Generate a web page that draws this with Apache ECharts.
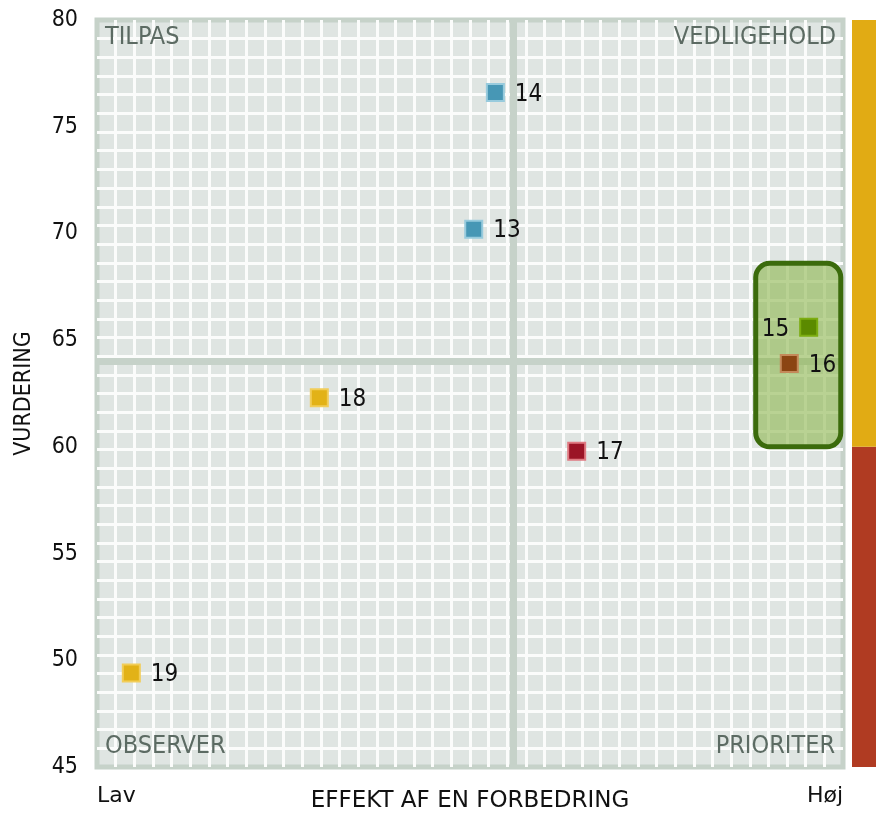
<!DOCTYPE html>
<html>
<head>
    <meta charset="utf-8">
    <title>Vurdering</title>
    <script src="https://cdn.jsdelivr.net/npm/echarts@6/dist/echarts.min.js"></script>
    <style>
        html, body { margin: 0; padding: 0; background: #fff; }
        #main { width: 876px; height: 816px; }
    </style>
</head>
<body>
<div id="main"></div>
<script type="text/javascript">
    // punkter: navn, effekt (0 = Lav, 100 = Høj), vurdering
    var pointNames = ['13', '14', '15', '16', '17', '18', '19'];
    var effekt = [50.5, 53.4, 95.4, 92.8, 64.3, 29.8, 4.6];
    var vurdering = [70.2, 76.6, 65.6, 63.9, 59.8, 62.3, 49.4];

    // kvadrant-skel
    var xSplit = 55.8;
    var ySplit = 64;

    // fremhævet område [x0, y0, x1, y1]
    var focusBox = [88.3, 60.0, 99.7, 68.6];

    // farvebånd til højre
    var bandLow = [45, 60];
    var bandHigh = [60, 80];

    var xTickNames = {0: 'Lav', 100: 'Høj'};

    var fill = {
        '13': ['#4797b5', '#98cbdd'], '14': ['#4797b5', '#98cbdd'],
        '15': ['#5b8a00', '#7cad10'], '16': ['#8b4513', '#c4895a'],
        '17': ['#9b1426', '#e07a82'], '18': ['#e2b217', '#f2cd58'],
        '19': ['#e2b217', '#f2cd58']
    };
    var bandColors = ['#b03b22', '#e1ab14'];
    var cond = '"DejaVu Sans Condensed", "DejaVu Sans", sans-serif';
    var wide = '"DejaVu Sans", sans-serif';

    var points = pointNames.map(function (n, i) {
        return {
            name: n,
            value: [effekt[i], vurdering[i]],
            itemStyle: {color: fill[n][0], borderColor: fill[n][1], borderWidth: 2, opacity: 1},
            label: {position: n === '15' ? 'left' : 'right'}
        };
    });

    var myChart = echarts.init(document.getElementById('main'));
    myChart.setOption({
        animation: false,
        grid: [
            {left: 97, right: 33, top: 20, bottom: 49, show: true, outerBoundsMode: 'none',
                backgroundColor: '#dfe5e2', borderColor: '#c6d2c9', borderWidth: 5},
            {left: 852, right: 0, top: 20, bottom: 49, outerBoundsMode: 'none'}
        ],
        xAxis: [
            {
                type: 'value', min: 0, max: 100, interval: 100, gridIndex: 0,
                name: 'EFFEKT AF EN FORBEDRING', nameLocation: 'middle', nameGap: 23,
                nameMoveOverlap: false,
                nameTextStyle: {fontFamily: wide, fontSize: 23, color: '#111'},
                axisLine: {show: false}, axisTick: {show: false}, splitLine: {show: false},
                axisLabel: {
                    margin: 18, fontFamily: wide, fontSize: 22, color: '#111',
                    alignMinLabel: 'left', alignMaxLabel: 'right',
                    formatter: function (v) { return xTickNames[v] || ''; }
                }
            },
            {
                type: 'value', min: 0, max: 40, interval: 1, gridIndex: 0,
                axisLine: {show: false}, axisTick: {show: false}, axisLabel: {show: false},
                splitLine: {show: true, showMinLine: false, showMaxLine: false,
                    lineStyle: {color: '#fbfcfb', width: 3}}
            },
            {type: 'value', min: 0, max: 1, gridIndex: 1, show: false}
        ],
        yAxis: [
            {
                type: 'value', min: 45, max: 80, interval: 5, gridIndex: 0,
                name: 'VURDERING', nameLocation: 'middle', nameGap: 61,
                nameMoveOverlap: false,
                nameTextStyle: {fontFamily: cond, fontSize: 23, color: '#111'},
                axisLine: {show: false}, axisTick: {show: false}, splitLine: {show: false},
                axisLabel: {margin: 19, fontFamily: cond, fontSize: 23, color: '#111'}
            },
            {
                type: 'value', min: 0, max: 40, interval: 1, gridIndex: 0,
                axisLine: {show: false}, axisTick: {show: false}, axisLabel: {show: false},
                splitLine: {show: true, showMinLine: false, showMaxLine: false,
                    lineStyle: {color: '#fbfcfb', width: 3}}
            },
            {type: 'value', min: 45, max: 80, gridIndex: 1, show: false}
        ],
        graphic: [
            {type: 'text', left: 105, top: 25, z: 5,
                style: {text: 'TILPAS', font: '25px ' + cond, fill: '#5c6b63'}},
            {type: 'text', right: 40, top: 25, z: 5,
                style: {text: 'VEDLIGEHOLD', font: '25px ' + cond, fill: '#5c6b63'}},
            {type: 'text', left: 105, top: 734, z: 5,
                style: {text: 'OBSERVER', font: '25px ' + cond, fill: '#5c6b63'}},
            {type: 'text', right: 41, top: 734, z: 5,
                style: {text: 'PRIORITER', font: '25px ' + cond, fill: '#5c6b63'}}
        ],
        series: [
            {
                // kvadrant-linjer
                type: 'line', xAxisIndex: 0, yAxisIndex: 0, data: [], z: 1,
                markLine: {
                    silent: true, z: 1, symbol: 'none', label: {show: false},
                    lineStyle: {color: '#c6d2c9', width: 7, type: 'solid'},
                    data: [{xAxis: xSplit}, {yAxis: ySplit}]
                }
            },
            {
                type: 'custom', xAxisIndex: 0, yAxisIndex: 0, z: 2,
                data: [focusBox],
                renderItem: function (params, api) {
                    var p1 = api.coord([api.value(0), api.value(3)]);
                    var p2 = api.coord([api.value(2), api.value(1)]);
                    return {
                        type: 'rect',
                        shape: {x: p1[0], y: p1[1], width: p2[0] - p1[0], height: p2[1] - p1[1], r: 14},
                        style: {fill: 'rgba(141,181,79,0.6)', stroke: '#3b6b0c', lineWidth: 5}
                    };
                }
            },
            {
                type: 'scatter', xAxisIndex: 0, yAxisIndex: 0, z: 3,
                symbol: 'rect', symbolSize: 17,
                label: {show: true, formatter: '{b}', distance: 10, offset: [0, 2],
                    fontFamily: cond, fontSize: 24, color: '#111'},
                data: points
            },
            {
                type: 'custom', xAxisIndex: 2, yAxisIndex: 2,
                data: bandLow.map(function (lo, i) { return [lo, bandHigh[i]]; }),
                renderItem: function (params, api) {
                    var p1 = api.coord([0, api.value(1)]);
                    var p2 = api.coord([1, api.value(0)]);
                    return {
                        type: 'rect',
                        shape: {x: p1[0], y: p1[1], width: p2[0] - p1[0], height: p2[1] - p1[1]},
                        style: {fill: bandColors[params.dataIndex]}
                    };
                }
            }
        ]
    });
</script>
</body>
</html>
